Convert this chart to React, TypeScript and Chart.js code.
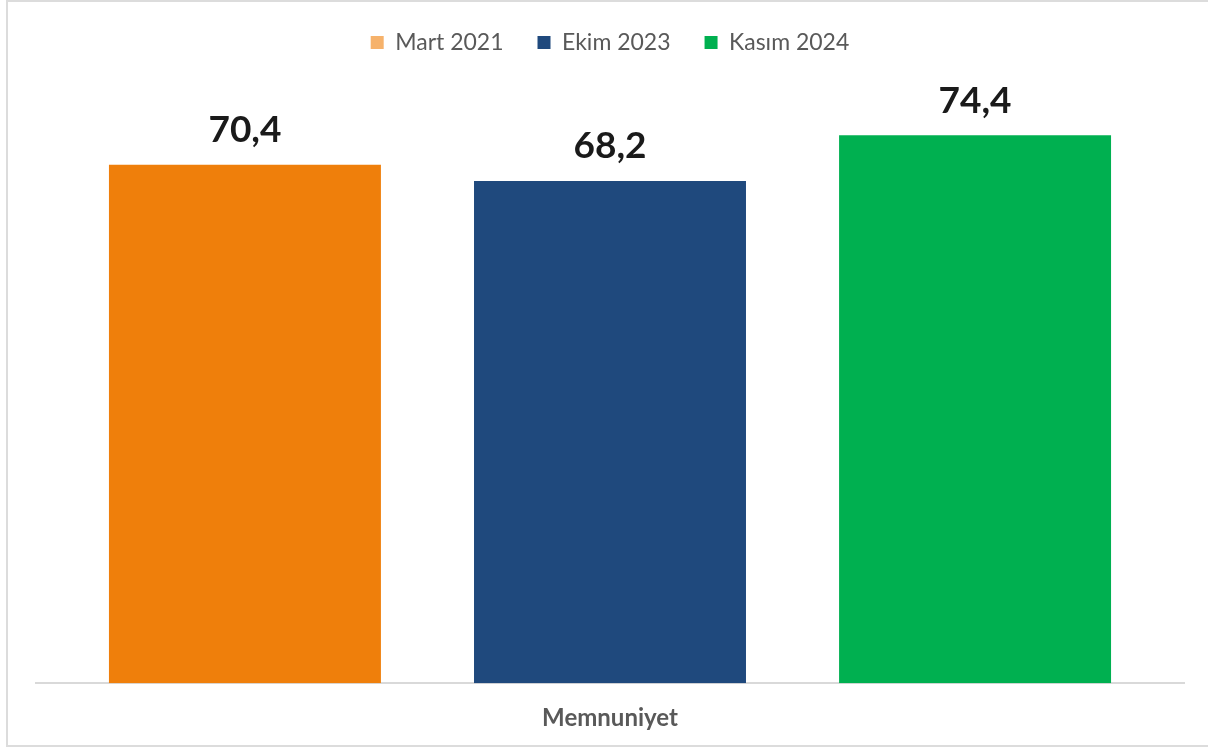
import React, { useEffect, useRef } from "react";
import { Chart, registerables } from "chart.js";

Chart.register(...registerables);

const categories = ["Memnuniyet"];
const seriesNames = ["Mart 2021", "Ekim 2023", "Kasım 2024"];
const marchValues = [70.4];
const octoberValues = [68.2];
const novemberValues = [74.4];

const barColors = ["#EF7F0B", "#1F497D", "#00B050"];
const legendColors = ["#F6B26B", "#1F497D", "#00B050"];

const valueLabels = {
  id: "valueLabels",
  afterDatasetsDraw(chart: any) {
    const ctx = chart.ctx;
    ctx.save();
    ctx.font = "bold 37px Lato";
    ctx.fillStyle = "#1a1a1a";
    ctx.textAlign = "center";
    ctx.textBaseline = "bottom";
    chart.data.datasets.forEach((ds: any, i: number) => {
      const meta = chart.getDatasetMeta(i);
      meta.data.forEach((el: any, j: number) => {
        const v = ds.data[j];
        ctx.fillText(String(v).replace(".", ","), el.x, el.y - 16);
      });
    });
    ctx.restore();
  },
};

const legendSpacer = {
  id: "legendSpacer",
  beforeInit(chart: any) {
    const legend = chart.legend;
    if (!legend) return;
    const origFit = legend.fit;
    legend.fit = function () {
      origFit.call(this);
      this.height += 30;
    };
  },
};

export default function App() {
  const ref = useRef<HTMLCanvasElement>(null);
  useEffect(() => {
    const chart = new Chart(ref.current!, {
      type: "bar",
      data: {
        labels: categories,
        datasets: [
          { label: seriesNames[0], data: marchValues, backgroundColor: barColors[0] },
          { label: seriesNames[1], data: octoberValues, backgroundColor: barColors[1] },
          { label: seriesNames[2], data: novemberValues, backgroundColor: barColors[2] },
        ],
      },
      options: {
        animation: false,
        responsive: false,
        maintainAspectRatio: false,
        categoryPercentage: 0.954,
        barPercentage: 0.745,
        layout: { padding: { left: 36, right: 24, top: -3, bottom: 5 } },
        plugins: {
          tooltip: { enabled: false },
          legend: {
            position: "top",
            labels: {
              font: { family: "Lato", size: 23 },
              color: "#595959",
              boxWidth: 13,
              boxHeight: 13,
              padding: 34,
              generateLabels: (chart: any) =>
                chart.data.datasets.map((ds: any, i: number) => ({
                  text: ds.label,
                  fillStyle: legendColors[i],
                  strokeStyle: legendColors[i],
                  lineWidth: 0,
                  fontColor: "#595959",
                  datasetIndex: i,
                })),
            },
          },
        },
        scales: {
          x: {
            grid: { display: false },
            border: { color: "#d9d9d9", width: 2 },
            ticks: { font: { family: "Lato", size: 24, weight: "bold" }, color: "#595959", padding: 13 },
          },
          y: {
            display: false,
            min: 0,
            max: 80,
          },
        },
      },
      plugins: [legendSpacer, valueLabels],
    });
    return () => chart.destroy();
  }, []);
  return (
    <div style={{ position: "absolute", left: 0, top: 0, width: 1208, height: 751, background: "#fff", overflow: "hidden" }}>
      <div
        style={{
          position: "absolute",
          left: 6,
          top: 0,
          width: 1220,
          height: 747,
          border: "2px solid #dcdcdc",
          boxSizing: "border-box",
        }}
      />
      <canvas ref={ref} width={1208} height={751} style={{ position: "absolute", left: 0, top: 0 }} />
    </div>
  );
}
